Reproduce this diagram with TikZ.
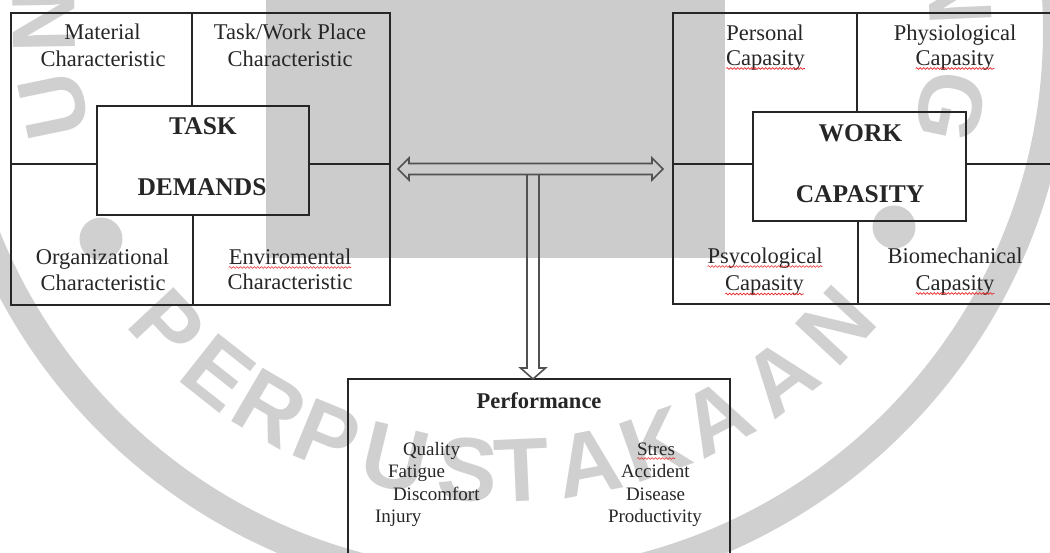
\documentclass[tikz,border=0pt]{standalone}
\usepackage{fontspec}
\setmainfont{Liberation Serif}
\newfontfamily\wmfont{Liberation Sans}
\usetikzlibrary{decorations.pathmorphing}
\definecolor{wm}{RGB}{208,208,208}
\definecolor{wmrect}{RGB}{204,204,204}
\definecolor{ink}{RGB}{38,38,38}
\definecolor{squig}{RGB}{232,40,40}
\begin{document}
\begin{tikzpicture}[x=1pt,y=-1pt,
  lbl/.style={anchor=base,inner sep=0pt,outer sep=0pt,text=ink,font=\fontsize{22.5}{27}\selectfont},
  big/.style={anchor=base,inner sep=0pt,outer sep=0pt,text=ink,font=\fontsize{25.5}{30}\selectfont\bfseries},
  perf/.style={anchor=base,inner sep=0pt,outer sep=0pt,text=ink,font=\fontsize{22.5}{27}\selectfont\bfseries},
  item/.style={anchor=base west,inner sep=0pt,outer sep=0pt,text=ink,font=\fontsize{19}{23}\selectfont},
  boxnode/.style={draw=ink,line width=1.2pt,inner sep=0pt,outer sep=0pt},
  tline/.style={draw=ink,line width=1.2pt},
  midline/.style={draw=ink,line width=2pt},
  hollow/.style={draw=ink!80,line width=1.6pt,line join=miter},
  wavy/.style={draw=squig,line width=0.6pt,decorate,decoration={snake,amplitude=0.9pt,segment length=3.5pt}},
  wmletter/.style={inner sep=0pt,outer sep=0pt,text=wm,font=\fontsize{90}{90}\selectfont\wmfont\bfseries},
]
\useasboundingbox (0,0) rectangle (1050,552);

% ---- watermark ----
\fill[wmrect] (266,0) rectangle (725,258);
\draw[wm,line width=28pt] (502,30) circle[radius=555];
\fill[wm] (101,239) circle[radius=21.5];
\fill[wm] (894,227) circle[radius=21.5];
\foreach \ch/\a [count=\i] in {P/-46.9,E/-38.3,R/-30.4,P/-22.4,U/-13.5,S/-4.3,T/2.5,A/10.9,K/19.5,A/27.9,A/37.4,N/46.9}
  \node[wmletter,rotate=\a] (wmb\i) at ({502+458*sin(\a)},{13+458*cos(\a)}) {\ch};
\foreach \ch/\a [count=\i] in {U/191.7,N/180.9,N/2.5,G/-11.85}
  \node[wmletter,rotate=\a-90] (wmt\i) at ({502+458*cos(\a)},{13-458*sin(\a)}) {\ch};

% ---- boxes ----
\node[boxnode,minimum width=379,minimum height=292] (LT) at (200.5,159) {};
\node[boxnode,minimum width=212,minimum height=109] (TD) at (203,160.5) {};
\node[boxnode,minimum width=387,minimum height=291] (RT) at (866.5,158.5) {};
\node[boxnode,minimum width=213,minimum height=109] (WC) at (859.5,166.5) {};
\node[boxnode,minimum width=382,minimum height=191] (PF) at (539,474.5) {};

% table dividers
\draw[midline] (11,164) -- (97,164);
\draw[midline] (309,164) -- (390,164);
\draw[tline] (192,13) -- (192,106);
\draw[tline] (193,215) -- (193,305);
\draw[midline] (673,164) -- (753,164);
\draw[midline] (966,164) -- (1060,164);
\draw[tline] (857,13) -- (857,112);
\draw[tline] (858,221) -- (858,304);

% ---- arrows ----
\coordinate (hl) at (398,169);
\coordinate (hr) at (663,169);
\coordinate (vt) at (533,379);
\draw[hollow] (hl) -- ++(11,-11) -- ++(0,5.5) -- ++(243,0) -- ++(0,-5.5) -- (hr)
  -- ++(-11,11) -- ++(0,-5.5) -- ++(-243,0) -- ++(0,5.5) -- cycle;
\draw[hollow] (527,174.5) -- (527,368) -- (520.5,368) -- (vt) -- (545.5,368) -- (539,368) -- (539,174.5);

% ---- left texts ----
\node[lbl] (mat1) at (102.5,39) {Material};
\node[lbl] (mat2) at (103,66.5) {Characteristic};
\node[lbl] (tw1) at (290,39) {Task/Work Place};
\node[lbl] (tw2) at (290,66.5) {Characteristic};
\node[lbl] (org1) at (102.5,264) {Organizational};
\node[lbl] (org2) at (103,290) {Characteristic};
\node[lbl] (env1) at (290,264) {Enviromental};
\node[lbl] (env2) at (290,289.5) {Characteristic};
\node[big] (td1) at (203,134) {TASK};
\node[big] (td2) at (202,195) {DEMANDS};

% ---- right texts ----
\node[lbl] (pe1) at (765,40.5) {Personal};
\node[lbl] (pe2) at (765.5,65) {Capasity};
\node[lbl] (ph1) at (955,40) {Physiological};
\node[lbl] (ph2) at (955,65) {Capasity};
\node[lbl] (ps1) at (765,263) {Psycological};
\node[lbl] (ps2) at (764.5,290.5) {Capasity};
\node[lbl] (bi1) at (955,263) {Biomechanical};
\node[lbl] (bi2) at (955,290) {Capasity};
\node[big] (wc1) at (860.5,141) {WORK};
\node[big] (wc2) at (860,202) {CAPASITY};

% ---- performance ----
\node[perf] (pt) at (539,408) {Performance};
\node[item] (q1) at (403,455) {Quality};
\node[item] (q2) at (388,477.5) {Fatigue};
\node[item] (q3) at (393,500) {Discomfort};
\node[item] (q4) at (375,522.5) {Injury};
\node[item] (s1) at (637,455) {Stres};
\node[item] (s2) at (621,477.5) {Accident};
\node[item] (s3) at (626,500) {Disease};
\node[item] (s4) at (608,522.5) {Productivity};

% ---- spell-check squiggles ----
\foreach \n in {env1,pe2,ph2,ps1,ps2,bi2,s1}
  \draw[wavy] ([yshift=-3.5pt]\n.base west) -- ([yshift=-3.5pt]\n.base east);
\end{tikzpicture}
\end{document}
